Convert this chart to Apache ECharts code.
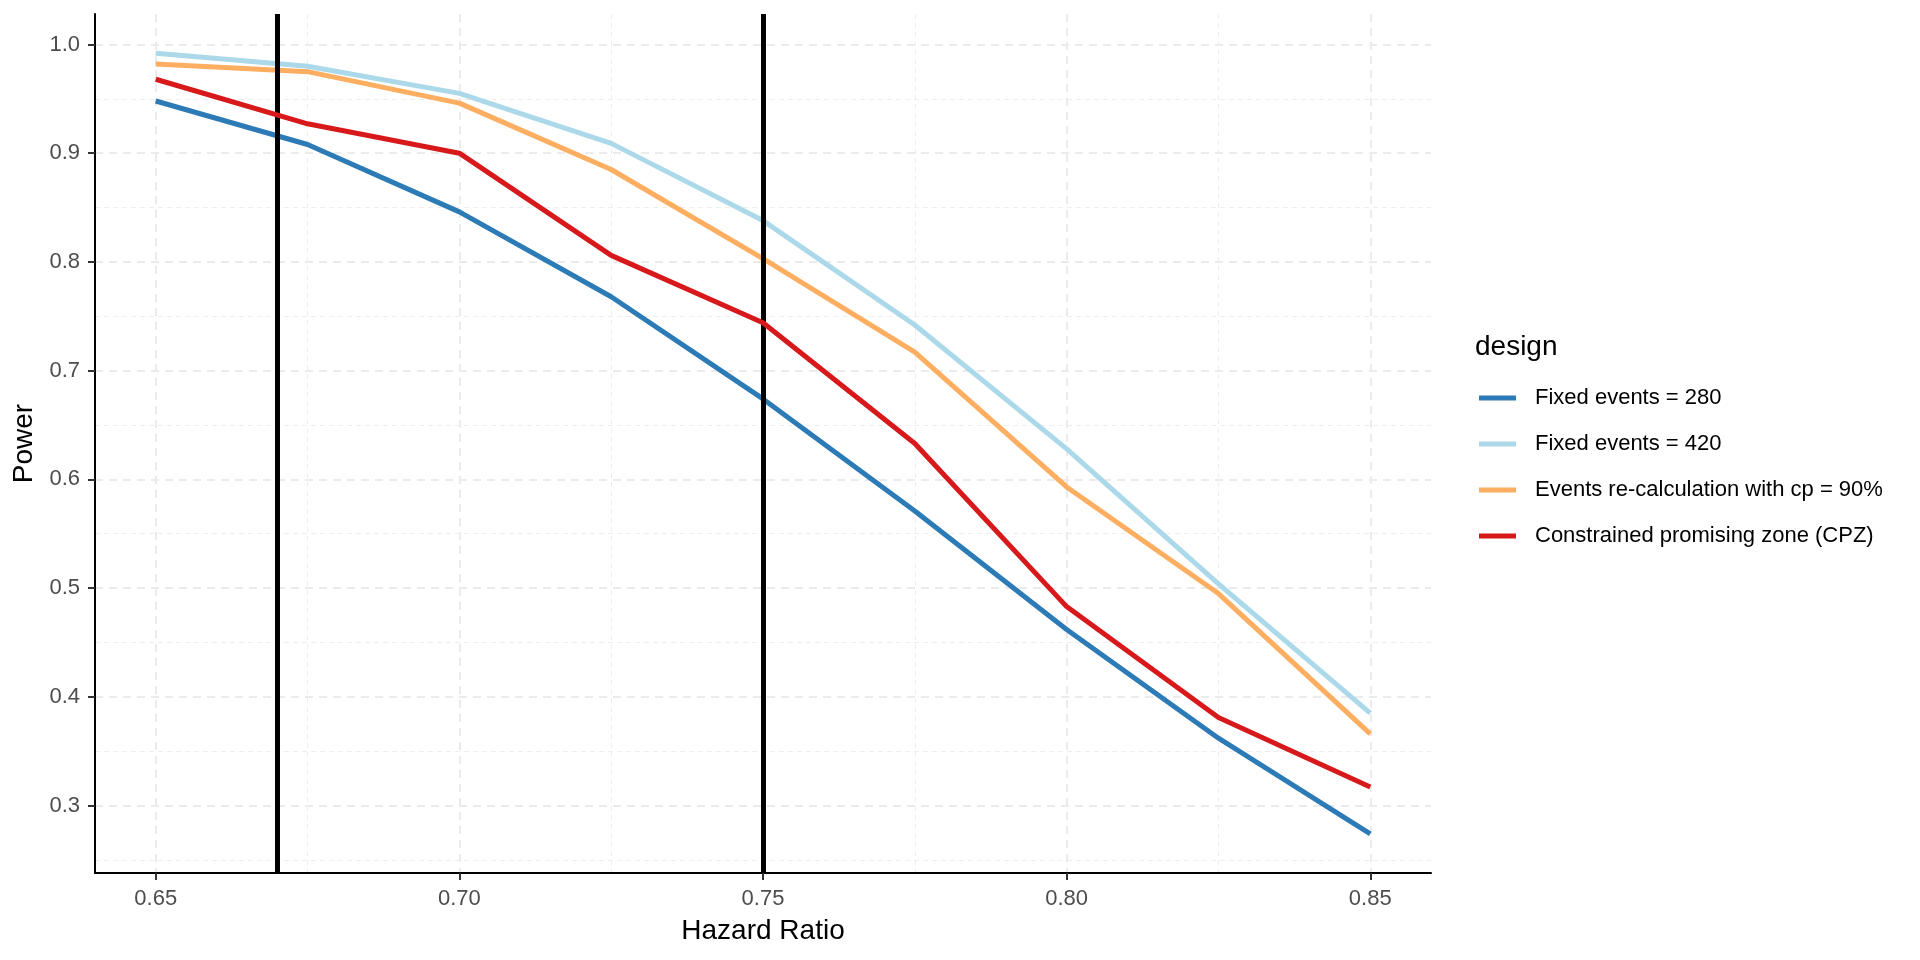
<!DOCTYPE html>
<html>
<head>
<meta charset="utf-8">
<script src="https://cdn.jsdelivr.net/npm/echarts@6.0.0/dist/echarts.min.js"></script>
<style>
  html, body { margin: 0; padding: 0; background: #ffffff; }
  #chart { width: 1920px; height: 960px; }
</style>
</head>
<body>
<div id="chart"></div>
<script>
// ---- data ----
const hazardRatio = [0.65, 0.675, 0.70, 0.725, 0.75, 0.775, 0.80, 0.825, 0.85];
const fixed280   = [0.948, 0.908, 0.846, 0.768, 0.674, 0.571, 0.462, 0.362, 0.274];
const fixed420   = [0.992, 0.980, 0.955, 0.909, 0.838, 0.742, 0.628, 0.504, 0.385];
const recalc90   = [0.982, 0.975, 0.946, 0.885, 0.803, 0.717, 0.593, 0.495, 0.366];
const cpz        = [0.968, 0.927, 0.900, 0.806, 0.744, 0.633, 0.483, 0.381, 0.317];
const designs = ['Fixed events = 280', 'Fixed events = 420',
                 'Events re-calculation with cp = 90%', 'Constrained promising zone (CPZ)'];
const vlines = [0.67, 0.75];
const xTicks = [0.65, 0.70, 0.75, 0.80, 0.85];
const yTicks = [0.3, 0.4, 0.5, 0.6, 0.7, 0.8, 0.9, 1.0];

// ---- styling ----
const FONT = "'Liberation Sans', Arial, Helvetica, sans-serif";
const colors = ['#2C7BB6', '#ABD9E9', '#FDAE61', '#D7191C'];
const seriesValues = [fixed280, fixed420, recalc90, cpz];

const majorGrid = { show: true, lineStyle: { color: '#EBEBEB', width: 2, type: [8, 6] } };
const minorGrid = { show: true, lineStyle: { color: '#EEEEEE', width: 1, type: [5, 4] } };

const series = designs.map((name, k) => {
  const s = {
    name: name,
    type: 'line',
    data: hazardRatio.map((x, i) => [x, seriesValues[k][i]]),
    showSymbol: false,
    symbol: 'none',
    lineStyle: { width: 5, color: colors[k], join: 'round' },
    itemStyle: { color: colors[k] },
    emphasis: { disabled: true },
    z: 2 + k
  };
  if (k === designs.length - 1) {
    s.markLine = {
      silent: true,
      symbol: ['none', 'none'],
      label: { show: false },
      emphasis: { disabled: true },
      animation: false,
      lineStyle: { color: '#000000', width: 5, type: 'solid' },
      data: vlines.map(v => ({ xAxis: v }))
    };
  }
  return s;
});

const chart = echarts.init(document.getElementById('chart'), null, { renderer: 'canvas' });
chart.setOption({
  animation: false,
  backgroundColor: '#ffffff',
  textStyle: { fontFamily: FONT },
  title: {
    text: 'design', left: 1475, top: 333, padding: 0,
    textStyle: { fontFamily: FONT, fontSize: 28, fontWeight: 'normal', color: '#000000' }
  },
  legend: {
    orient: 'vertical', left: 1479, top: 387, padding: 0,
    itemWidth: 37, itemHeight: 5, itemGap: 24, icon: 'rect',
    textStyle: { fontFamily: FONT, fontSize: 22, color: '#000000', padding: [0, 0, 0, 14] },
    data: designs
  },
  grid: { left: 95, right: 489, top: 14, bottom: 87, containLabel: false },
  xAxis: {
    type: 'value', min: 0.64, max: 0.86,
    splitNumber: 4, minInterval: 0.05, maxInterval: 0.05,
    name: 'Hazard Ratio', nameLocation: 'middle', nameGap: 44,
    nameTextStyle: { fontFamily: FONT, fontSize: 28, color: '#000000' },
    axisLine: { show: true, onZero: false, lineStyle: { color: '#000000', width: 2 } },
    axisTick: { show: true, length: 7, customValues: xTicks, lineStyle: { color: '#333333', width: 2 } },
    axisLabel: { customValues: xTicks, margin: 15, fontFamily: FONT, fontSize: 22, color: '#4D4D4D',
                 formatter: v => v.toFixed(2) },
    splitLine: majorGrid,
    minorTick: { show: false, splitNumber: 2 },
    minorSplitLine: minorGrid
  },
  yAxis: {
    type: 'value', min: 0.238, max: 1.028,
    splitNumber: 8, minInterval: 0.1, maxInterval: 0.1,
    name: 'Power', nameLocation: 'middle', nameGap: 52,
    nameTextStyle: { fontFamily: FONT, fontSize: 28, color: '#000000' },
    axisLine: { show: true, onZero: false, lineStyle: { color: '#000000', width: 2 } },
    axisTick: { show: true, length: 7, customValues: yTicks, lineStyle: { color: '#333333', width: 2 } },
    axisLabel: { customValues: yTicks, margin: 15, fontFamily: FONT, fontSize: 22, color: '#4D4D4D',
                 formatter: v => v.toFixed(1) },
    splitLine: majorGrid,
    minorTick: { show: false, splitNumber: 2 },
    minorSplitLine: minorGrid
  },
  series: series
});
</script>
</body>
</html>
